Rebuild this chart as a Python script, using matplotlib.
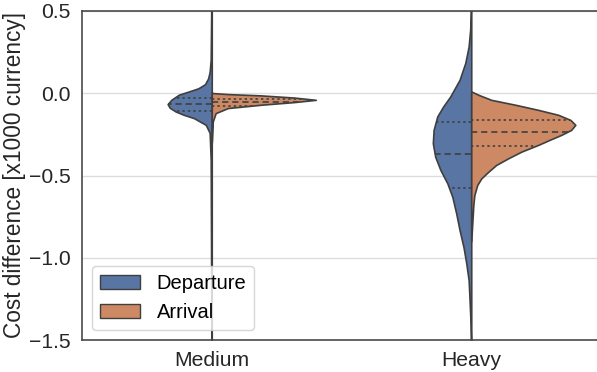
import numpy as np
import matplotlib.pyplot as plt

plt.rcParams["font.family"] = ["Liberation Sans", "DejaVu Sans"]

categories = ["Medium", "Heavy"]
hues = ["Departure", "Arrival"]

# density profiles of each half violin: value levels and half widths
medium_dep_y = [0.60, 0.503, 0.204, 0.130, 0.090, 0.055, 0.030, 0.009, -0.009,
                -0.040, -0.066, -0.088, -0.111, -0.131, -0.151, -0.192, -0.241,
                -0.405, -1.198, -1.60]
medium_dep_w = [0.0, 0.002, 0.004, 0.008, 0.014, 0.026, 0.052, 0.092, 0.127,
                0.156, 0.170, 0.162, 0.139, 0.108, 0.069, 0.023, 0.008,
                0.004, 0.002, 0.0]
medium_arr_y = [0.006, 0.001, -0.005, -0.013, -0.026, -0.040, -0.054, -0.070,
                -0.090, -0.121, -0.172, -0.30]
medium_arr_w = [0.0, 0.004, 0.062, 0.189, 0.316, 0.401, 0.316, 0.189,
                0.062, 0.015, 0.004, 0.0]

heavy_dep_y = [0.60, 0.387, 0.285, 0.184, 0.082, -0.020, -0.080, -0.141, -0.223,
               -0.304, -0.385, -0.466, -0.548, -0.629, -0.730, -0.832, -0.934,
               -1.035, -1.137, -1.239, -1.381, -1.60]
heavy_dep_w = [0.0, 0.004, 0.010, 0.023, 0.045, 0.081, 0.108, 0.131, 0.145,
               0.148, 0.139, 0.119, 0.092, 0.073, 0.058, 0.045, 0.030,
               0.019, 0.010, 0.007, 0.003, 0.0]
heavy_arr_y = [0.011, -0.009, -0.040, -0.070, -0.101, -0.131, -0.162, -0.192,
               -0.223, -0.253, -0.284, -0.314, -0.355, -0.395, -0.436, -0.477,
               -0.517, -0.558, -0.619, -0.680, -0.90]
heavy_arr_w = [0.0, 0.027, 0.077, 0.170, 0.258, 0.335, 0.382, 0.401,
               0.385, 0.347, 0.301, 0.258, 0.193, 0.143, 0.096, 0.066,
               0.039, 0.023, 0.012, 0.008, 0.0]

# quartiles (q1, median, q3)
medium_dep_q = [-0.029, -0.066, -0.107]
medium_arr_q = [-0.032, -0.051, -0.075]
heavy_dep_q = [-0.176, -0.369, -0.578]
heavy_arr_q = [-0.162, -0.233, -0.320]

halves = [
    (0, -1, medium_dep_y, medium_dep_w, medium_dep_q),
    (0, 1, medium_arr_y, medium_arr_w, medium_arr_q),
    (1, -1, heavy_dep_y, heavy_dep_w, heavy_dep_q),
    (1, 1, heavy_arr_y, heavy_arr_w, heavy_arr_q),
]

colors = {-1: "#5875a4", 1: "#cc8963"}
edge = "#3f3f3f"

fig = plt.figure(figsize=(5.97, 3.72), dpi=100)
ax = fig.add_axes([82 / 597, 32 / 372, 519 / 597, 329 / 372])

for pos, side, ys, ws, qs in halves:
    ys = np.array(ys)
    ws = np.array(ws)
    ax.fill_betweenx(ys, pos, pos + side * ws, facecolor=colors[side],
                     edgecolor=edge, linewidth=1.2, zorder=2)
    order = np.argsort(ys)
    for k, q in enumerate(qs):
        half = np.interp(q, ys[order], ws[order])
        if k == 1:
            style = (0, (3.2, 2.0))
        else:
            style = (0, (1.2, 1.6))
        ax.plot([pos, pos + side * half], [q, q], color=edge, alpha=0.85,
                linewidth=1.4, linestyle=style, zorder=3)

ax.set_xlim(-0.5, 1.5)
ax.set_ylim(-1.5, 0.5)
ax.set_xticks(range(len(categories)))
ax.set_xticklabels(categories)
ax.set_yticks([-1.5, -1.0, -0.5, 0.0, 0.5])
ax.tick_params(axis="both", length=0, labelsize=15.2, pad=8, colors="#262626")
ax.set_ylabel("Cost difference [x1000 currency]", fontsize=16.3,
              color="#262626")
ax.yaxis.set_label_coords(-0.108, 0.5)

ax.grid(axis="y", color="#dddddd", linewidth=1.0, zorder=0)
ax.set_axisbelow(True)
for s in ax.spines.values():
    s.set_color("#4a4a4a")
    s.set_linewidth(1.2)

handles = [plt.Rectangle((0, 0), 1, 1, facecolor=colors[s], edgecolor=edge,
                         linewidth=1.0) for s in (-1, 1)]
leg = ax.legend(handles, hues, loc="lower left", fontsize=14.5,
                framealpha=0.8, edgecolor="#cccccc", fancybox=True)

fig.savefig("out.png", dpi=100)
